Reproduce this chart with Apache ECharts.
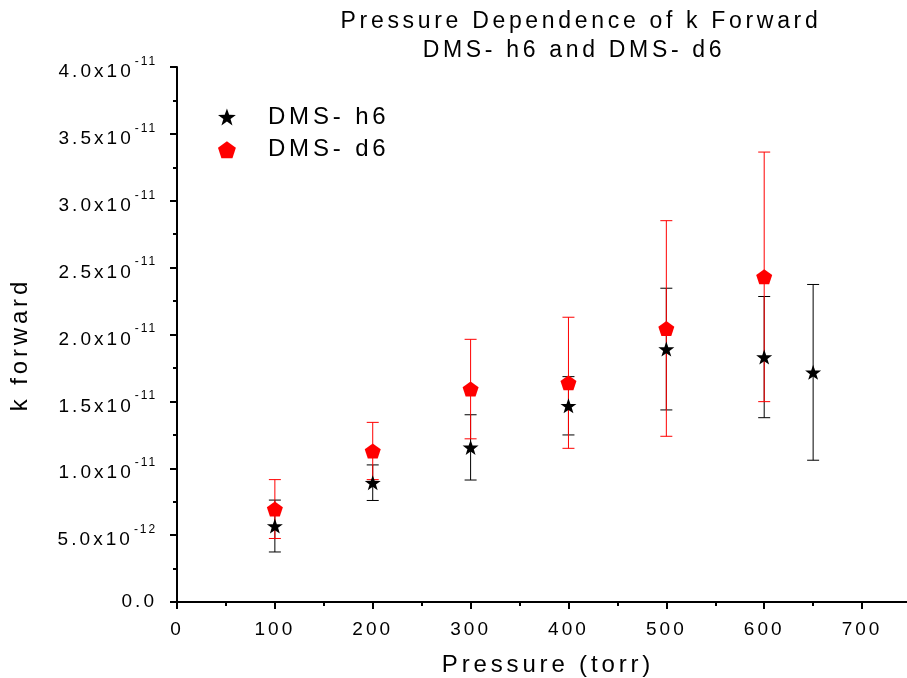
<!DOCTYPE html>
<html>
<head>
<meta charset="utf-8">
<script src="https://cdn.jsdelivr.net/npm/echarts@6/dist/echarts.min.js"></script>
<style>html,body{margin:0;padding:0;background:#fff;}#c{width:907px;height:678px;}</style>
</head>
<body>
<div id="c"></div>
<script>
// ---- data ----
const titleLines = ['Pressure Dependence of k Forward', 'DMS- h6 and DMS- d6'];
const seriesNames = ['DMS- h6', 'DMS- d6'];
const h6Pressure = [100, 200, 300, 400, 500, 600, 650];
const h6Value = [5.68e-12, 8.92e-12, 1.156e-11, 1.467e-11, 1.891e-11, 1.831e-11, 1.717e-11];
const h6Error = [1.94e-12, 1.33e-12, 2.44e-12, 2.18e-12, 4.55e-12, 4.53e-12, 6.57e-12];
const d6Pressure = [100, 200, 300, 400, 500, 600];
const d6Value = [6.95e-12, 1.129e-11, 1.592e-11, 1.639e-11, 2.045e-11, 2.431e-11];
const d6Error = [2.20e-12, 2.14e-12, 3.72e-12, 4.90e-12, 8.06e-12, 9.33e-12];
const xTickStep = 100;
const yTickStep = 5e-12;

// letter spacing for all canvas text (mimics the spaced lettering of the original)
const LS = 0.16;
(function () {
  const P = CanvasRenderingContext2D.prototype;
  const d = Object.getOwnPropertyDescriptor(P, 'font');
  if (!d || !('letterSpacing' in P)) return;
  Object.defineProperty(P, 'font', {
    configurable: true,
    get() { return d.get.call(this); },
    set(v) {
      d.set.call(this, v);
      const m = /(\d+(?:\.\d+)?)px/.exec(v);
      if (m) this.letterSpacing = (parseFloat(m[1]) * LS).toFixed(2) + 'px';
    }
  });
})();

const STAR = 'path://M50,0 L61.76,33.82 L97.55,34.55 L69.02,56.18 L79.39,90.45 L50,70 L20.61,90.45 L30.98,56.18 L2.45,34.55 L38.24,33.82 Z';
const PENT = 'path://M50,0 L97.55,34.55 L79.39,90.45 L20.61,90.45 L2.45,34.55 Z';
const FONT = '"Liberation Sans", Arial, sans-serif';

function pts(xs, ys) { return xs.map((x, i) => [x, ys[i]]); }
function bars(xs, ys, es) { return xs.map((x, i) => [x, ys[i] - es[i], ys[i] + es[i]]); }

function errRender(color) {
  return function (params, api) {
    const x = api.value(0);
    const lo = api.coord([x, api.value(1)]);
    const hi = api.coord([x, api.value(2)]);
    const hw = 6;
    const st = { stroke: color, lineWidth: 1 };
    return {
      type: 'group',
      children: [
        { type: 'line', shape: { x1: lo[0], y1: lo[1], x2: hi[0], y2: hi[1] }, style: st },
        { type: 'line', shape: { x1: lo[0] - hw, y1: lo[1], x2: lo[0] + hw, y2: lo[1] }, style: st },
        { type: 'line', shape: { x1: hi[0] - hw, y1: hi[1], x2: hi[0] + hw, y2: hi[1] }, style: st }
      ]
    };
  };
}

function yFmt(v) {
  if (v === 0) return '{zero|0.0}';
  const e = Math.floor(Math.log10(v) + 1e-9);
  const m = (v / Math.pow(10, e)).toFixed(1);
  return '{main|' + m + 'x10}{sup|' + e + '}';
}

const titleStyle = { fontFamily: FONT, fontSize: 23, fontWeight: 'normal', color: '#000', lineHeight: 29 };

const chart = echarts.init(document.getElementById('c'), null, { renderer: 'canvas' });
chart.setOption({
  backgroundColor: '#ffffff',
  animation: false,
  textStyle: { fontFamily: FONT },
  title: [
    { text: titleLines[0], left: 581, top: 7, textAlign: 'center', padding: 0, textStyle: titleStyle },
    { text: titleLines[1], left: 574, top: 36, textAlign: 'center', padding: 0, textStyle: titleStyle }
  ],
  legend: {
    orient: 'vertical', left: 218, top: 103, padding: 0,
    itemWidth: 18, itemHeight: 17, itemGap: 5,
    textStyle: { fontFamily: FONT, fontSize: 24, color: '#000', lineHeight: 26, padding: [0, 0, 0, 27] },
    data: [
      { name: seriesNames[0], icon: STAR, itemStyle: { color: '#000', opacity: 1 } },
      { name: seriesNames[1], icon: PENT, itemStyle: { color: '#ff0000', opacity: 1 } }
    ]
  },
  grid: { left: 177, top: 67, width: 734, height: 535, containLabel: false, outerBoundsMode: 'none' },
  xAxis: {
    type: 'value', min: 0, max: 750, interval: xTickStep,
    name: 'Pressure (torr)', nameLocation: 'middle', nameGap: 49,
    nameTextStyle: { fontFamily: FONT, fontSize: 24, color: '#000', padding: [0, 0, 0, 8] },
    axisLine: { show: true, lineStyle: { color: '#000', width: 2 } },
    axisTick: { show: true, length: 7, lineStyle: { color: '#000', width: 2 } },
    minorTick: { show: true, splitNumber: 2, length: 4, lineStyle: { color: '#000', width: 2 } },
    splitLine: { show: false },
    axisLabel: {
      fontFamily: FONT, fontSize: 19, color: '#000', margin: 17,
      formatter: v => (v % xTickStep === 0 ? String(v) : '')
    }
  },
  yAxis: {
    type: 'value', min: 0, max: 4e-11, interval: yTickStep,
    name: 'k forward', nameLocation: 'middle', nameGap: 143, nameRotate: 90,
    nameTextStyle: { fontFamily: FONT, fontSize: 24, color: '#000', padding: [0, 20, 0, 0] },
    axisLine: { show: true, lineStyle: { color: '#000', width: 2 } },
    axisTick: { show: true, length: 7, lineStyle: { color: '#000', width: 2 } },
    minorTick: { show: true, splitNumber: 2, length: 4, lineStyle: { color: '#000', width: 2 } },
    splitLine: { show: false },
    axisLabel: {
      color: '#000', margin: 20, align: 'right',
      formatter: yFmt,
      rich: {
        zero: { fontFamily: FONT, fontSize: 19, lineHeight: 19, color: '#000' },
        main: { fontFamily: FONT, fontSize: 19, lineHeight: 19, color: '#000', padding: [10, 0, 0, 0] },
        sup: { fontFamily: FONT, fontSize: 12, lineHeight: 12, color: '#000', padding: [3, 0, 14, 1] }
      }
    }
  },
  series: [
    {
      name: seriesNames[0] + ' err', type: 'custom', renderItem: errRender('#000'),
      data: bars(h6Pressure, h6Value, h6Error), z: 2, silent: true,
      encode: { x: 0, y: [1, 2] }
    },
    {
      name: seriesNames[1] + ' err', type: 'custom', renderItem: errRender('#ff0000'),
      data: bars(d6Pressure, d6Value, d6Error), z: 3, silent: true,
      encode: { x: 0, y: [1, 2] }
    },
    {
      name: seriesNames[0], type: 'scatter', symbol: STAR, symbolSize: [16, 15],
      itemStyle: { color: '#000', opacity: 1 }, data: pts(h6Pressure, h6Value), z: 4
    },
    {
      name: seriesNames[1], type: 'scatter', symbol: PENT, symbolSize: [16, 15],
      itemStyle: { color: '#ff0000', opacity: 1 }, data: pts(d6Pressure, d6Value), z: 5
    }
  ]
});
</script>
</body>
</html>
